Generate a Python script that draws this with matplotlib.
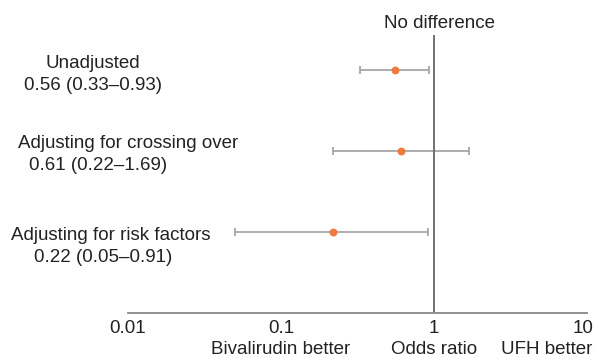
import numpy as np
import matplotlib.pyplot as plt
import matplotlib.transforms as mtransforms

plt.rcParams['font.family'] = ['Liberation Sans', 'DejaVu Sans']

# data
labels = ["Unadjusted", "Adjusting for crossing over", "Adjusting for risk factors"]
odds = [0.56, 0.61, 0.22]
lower = [0.33, 0.22, 0.05]
upper = [0.93, 1.69, 0.91]
ticks = [0.01, 0.1, 1, 10]
tick_labels = ["0.01", "0.1", "1", "10"]

fig = plt.figure(figsize=(5.95, 3.58), dpi=100)
ax = fig.add_axes([128/595, 1-313/358, (587-128)/595, (313-35)/358])

ypos = np.array([3, 2, 1])
odds = np.array(odds)
err = [odds - np.array(lower), np.array(upper) - odds]
ax.errorbar(odds, ypos, xerr=err, fmt='none', ecolor='#a0a0a0', elinewidth=1.2,
            capsize=3, capthick=1.2)
ax.scatter(odds, ypos, color='#ee7b3c', s=22, zorder=3)

ax.axvline(1, color='#666666', lw=1.3)

ax.set_xscale('log')
ax.set_xlim(0.01, 10)
ax.set_ylim(0, 3.43)
ax.set_xticks(ticks)
ax.set_xticklabels(tick_labels, fontsize=13.5, color='#222222')
ax.minorticks_off()
ax.tick_params(axis='x', length=0, pad=5)
ax.set_yticks([])
for s in ['top', 'right', 'left']:
    ax.spines[s].set_visible(False)
ax.spines['bottom'].set_color('#888888')
ax.spines['bottom'].set_linewidth(1.3)

# nudge last tick label so it stays inside the figure
last = ax.get_xticklabels()[-1]
last.set_transform(last.get_transform() +
                   mtransforms.ScaledTranslation(-4/100, 0, fig.dpi_scale_trans))

# row labels (figure pixel positions)
txt = dict(fontsize=13.5, color='#222222', ha='center', va='center')
label_pos = [(93, 63), (128, 144), (111, 236)]
ci_pos = [(93, 85), (98, 165), (103, 257)]
for lab, o, lo, hi, (lx, ly), (cx, cy) in zip(labels, odds, lower, upper, label_pos, ci_pos):
    fig.text(lx/595, 1-ly/358, lab, **txt)
    fig.text(cx/595, 1-cy/358, f"{o:.2f} ({lo:.2f}\u2013{hi:.2f})", **txt)

fig.text(440/595, 1-23/358, "No difference", **txt)
fig.text(281/595, 1-349/358, "Bivalirudin better", **txt)
fig.text(434/595, 1-349/358, "Odds ratio", **txt)
fig.text(547/595, 1-349/358, "UFH better", **txt)

fig.savefig("out.png", dpi=100)
